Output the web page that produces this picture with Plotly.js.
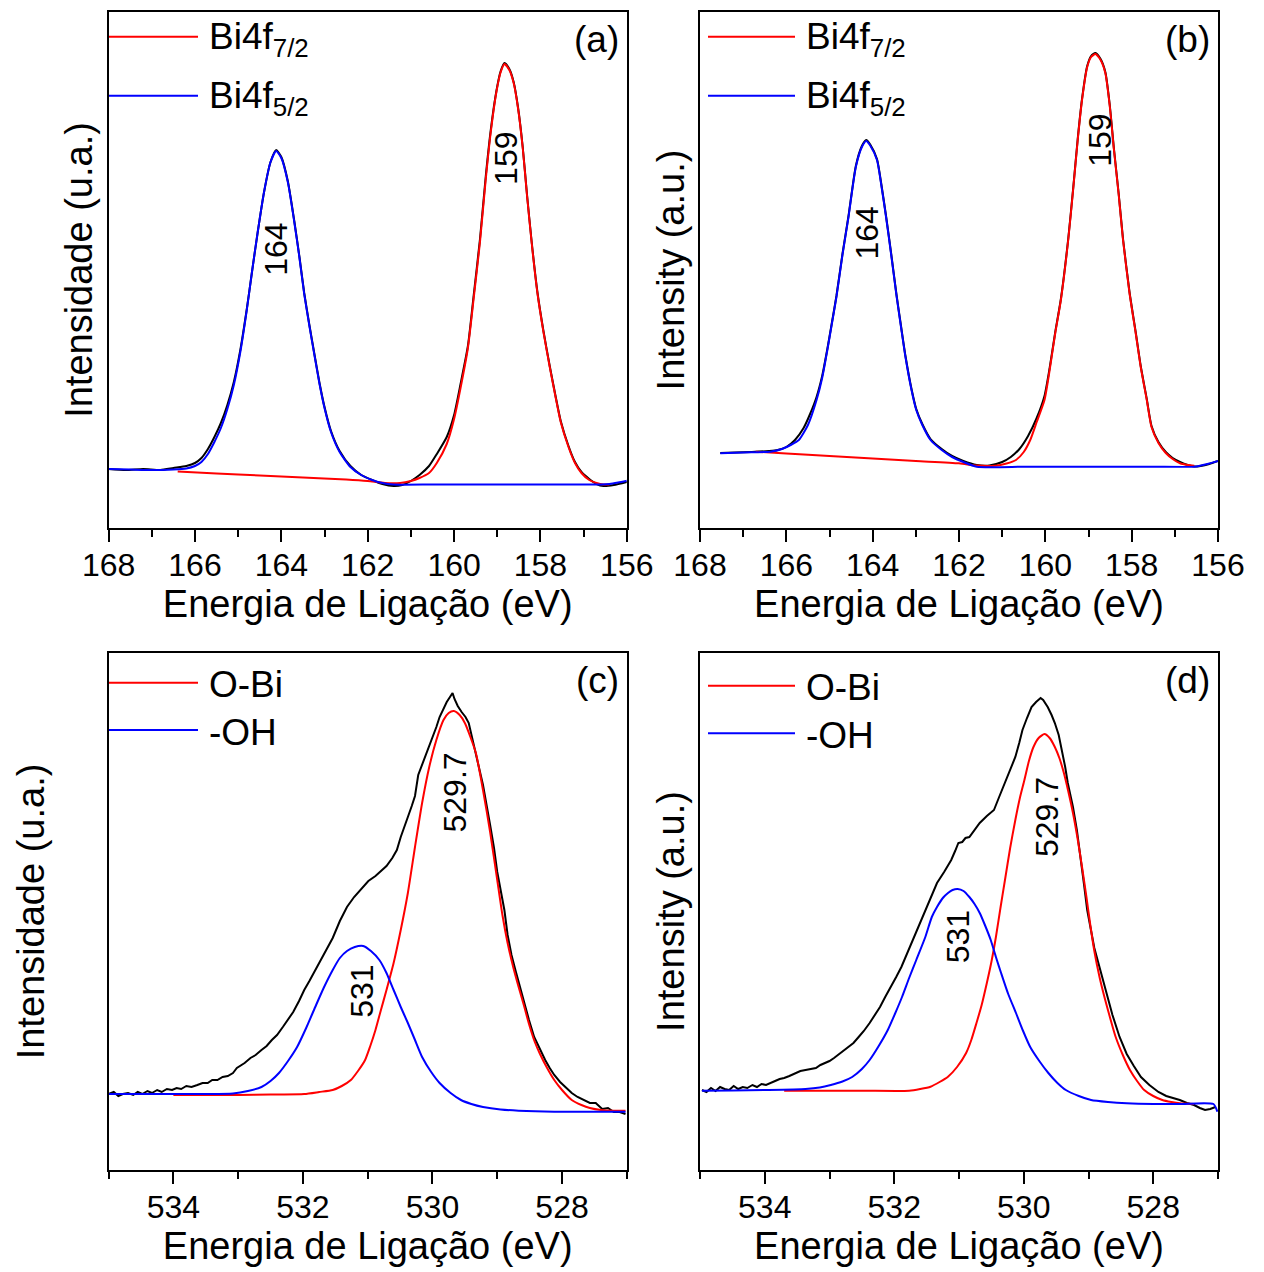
<!DOCTYPE html>
<html>
<head>
<meta charset="utf-8">
<script src="https://cdn.plot.ly/plotly-3.0.1.min.js"></script>
<style>html,body{margin:0;padding:0;background:#fff}#plot{width:1264px;height:1272px}</style>
</head>
<body>
<div id="plot"></div>
<script>
// ---------------- DATA ----------------
// Panel (a): Bi4f, binding energy (eV) vs intensity (a.u.)
const aExpX = [168.0,167.6,167.2,166.8,166.5,166.2,166.0,165.85,165.7,165.55,165.4,165.25,165.1,164.95,164.8,164.68,164.55,164.4,164.25,164.12,164.0,163.85,163.7,163.58,163.47,163.35,163.23,163.12,163.0,162.85,162.65,162.4,162.15,161.9,161.66,161.4,161.2,161.0,160.8,160.58,160.4,160.17,160.0,159.85,159.68,159.55,159.4,159.27,159.15,159.02,158.92,158.83,158.72,158.62,158.52,158.41,158.31,158.2,158.07,157.93,157.78,157.65,157.53,157.35,157.2,157.05,156.87,156.7,156.54,156.3,156.0];
const aExpY = [5.9,5.8,5.9,5.8,6.0,6.2,6.5,7.0,7.9,9.1,10.5,12.3,14.6,17.8,21.9,25.6,29.5,33.6,36.6,37.8,37.1,34.7,30.7,27.1,23.5,20.3,17.3,14.6,12.1,9.7,7.7,6.2,5.3,4.8,4.4,4.2,4.3,4.7,5.3,6.2,7.4,9.1,11.3,14.4,18.2,23.1,28.9,35.0,39.8,43.7,45.7,46.5,45.9,44.6,42.1,38.1,33.3,28.5,23.6,19.7,16.1,13.2,10.7,8.2,6.6,5.6,4.9,4.4,4.2,4.3,4.6];
const aRedX = [166.4,165.5,164.5,163.5,162.5,162.0,161.6,161.25,161.0,160.8,160.58,160.4,160.17,160.0,159.85,159.68,159.55,159.4,159.27,159.15,159.02,158.92,158.83,158.72,158.62,158.52,158.41,158.31,158.2,158.07,157.93,157.78,157.65,157.53,157.35,157.2,157.05,156.87,156.7,156.54,156.4];
const aRedY = [5.65,5.45,5.25,5.05,4.85,4.7,4.5,4.5,4.7,5.0,5.5,6.5,8.4,10.9,14.0,18.0,22.8,28.6,34.7,39.6,43.6,45.6,46.4,45.8,44.5,42.0,38.0,33.2,28.4,23.5,19.6,16.0,13.1,10.6,8.1,6.5,5.5,4.8,4.5,4.35,4.35];
const aBlueX = [168.0,167.5,167.0,166.5,166.2,166.0,165.85,165.7,165.55,165.4,165.25,165.1,164.95,164.8,164.68,164.55,164.4,164.25,164.12,164.0,163.85,163.7,163.58,163.47,163.35,163.23,163.12,163.0,162.85,162.65,162.4,162.15,161.9,161.66,161.4,160.5,159.5,158.5,157.5,156.6,156.4,156.2,156.0];
const aBlueY = [5.9,5.85,5.8,5.85,5.95,6.2,6.6,7.4,8.6,10.0,11.9,14.3,17.6,21.8,25.6,29.5,33.6,36.6,37.7,37.0,34.6,30.6,27.0,23.4,20.2,17.2,14.5,12.0,9.6,7.6,6.1,5.3,4.8,4.5,4.35,4.35,4.35,4.35,4.35,4.35,4.4,4.55,4.73];

// Panel (b)
const bExpX = [167.53,167.2,166.8,166.4,166.2,166.0,165.8,165.6,165.45,165.3,165.17,165.05,164.95,164.84,164.7,164.56,164.39,164.25,164.15,164.05,163.9,163.8,163.69,163.57,163.45,163.34,163.24,163.1,162.99,162.85,162.66,162.4,162.16,161.9,161.59,161.3,161.0,160.8,160.6,160.4,160.2,160.02,159.9,159.77,159.64,159.47,159.35,159.25,159.15,159.03,158.94,158.84,158.72,158.61,158.51,158.41,158.3,158.2,158.05,157.9,157.79,157.65,157.54,157.38,157.21,157.05,156.88,156.7,156.55,156.4,156.2,156.0];
const bExpY = [7.5,7.55,7.6,7.7,7.8,8.1,8.8,10.0,11.4,13.1,15.2,17.9,20.4,23.2,27.4,31.2,36.2,38.2,38.8,38.3,36.9,34.4,31.2,27.4,23.4,20.1,17.2,13.9,11.9,10.4,8.9,7.9,7.2,6.7,6.3,6.25,6.6,7.1,7.9,9.2,11.0,13.2,16.0,19.6,22.9,28.9,34.2,38.9,42.9,46.2,47.2,47.5,46.9,45.6,42.4,37.9,33.4,28.9,23.6,19.4,16.2,12.9,10.2,8.6,7.6,7.0,6.6,6.3,6.15,6.2,6.4,6.7];
const bRedX = [166.71,166.0,165.0,164.0,163.0,162.0,161.6,161.17,160.9,160.68,160.5,160.35,160.2,160.02,159.9,159.77,159.64,159.47,159.35,159.25,159.15,159.03,158.94,158.84,158.72,158.61,158.51,158.41,158.3,158.2,158.05,157.9,157.79,157.65,157.54,157.38,157.21,157.05,156.88,156.7,156.55];
const bRedY = [7.63,7.45,7.2,6.95,6.7,6.47,6.25,6.23,6.45,6.8,7.6,8.8,10.6,12.8,15.8,19.5,22.8,28.8,34.1,38.8,42.8,46.1,47.1,47.4,46.8,45.5,42.3,37.8,33.3,28.8,23.5,19.3,16.1,12.8,10.1,8.5,7.5,6.9,6.47,6.3,6.23];
const bBlueX = [167.53,167.0,166.37,166.1,165.9,165.71,165.5,165.3,165.17,165.05,164.95,164.84,164.7,164.56,164.39,164.25,164.15,164.05,163.9,163.8,163.69,163.57,163.45,163.34,163.24,163.1,162.99,162.85,162.66,162.4,162.16,161.9,161.59,160.5,159.5,158.5,157.5,156.55,156.4,156.2,156.0];
const bBlueY = [7.47,7.55,7.63,7.9,8.3,8.8,10.3,12.8,15.0,17.8,20.3,23.1,27.3,31.1,36.1,38.1,38.7,38.2,36.8,34.3,31.1,27.3,23.3,20.0,17.1,13.8,11.8,10.3,8.8,7.8,7.1,6.6,6.13,6.13,6.13,6.13,6.13,6.13,6.25,6.45,6.7];

// Panel (c): O1s
const cExpX = [535.0,534.92,534.85,534.78,534.7,534.62,534.55,534.48,534.4,534.33,534.25,534.18,534.1,534.02,533.95,533.88,533.8,533.72,533.63,533.55,533.47,533.4,533.32,533.24,533.16,533.08,533.02,532.97,532.9,532.81,532.73,532.64,532.56,532.48,532.4,532.31,532.23,532.15,532.06,531.98,531.9,531.81,531.73,531.65,531.54,531.43,531.32,531.21,531.1,530.99,530.88,530.79,530.71,530.62,530.55,530.49,530.43,530.38,530.32,530.27,530.22,530.16,530.11,530.05,530.0,529.94,529.89,529.83,529.78,529.72,529.69,529.66,529.61,529.55,529.49,529.44,529.38,529.33,529.27,529.22,529.11,529.05,529.0,528.94,528.89,528.84,528.78,528.72,528.67,528.59,528.51,528.43,528.34,528.26,528.19,528.12,528.03,527.94,527.85,527.76,527.66,527.57,527.48,527.38,527.29,527.2,527.11,527.02];
const cExpY = [7.6,7.8,7.4,7.6,7.7,7.5,7.8,7.6,7.9,7.7,8.0,7.8,8.1,8.0,8.2,8.1,8.4,8.3,8.5,8.7,8.7,9.0,9.0,9.3,9.4,9.7,10.2,10.4,10.7,11.2,11.5,12.0,12.4,13.0,13.5,14.3,15.0,15.8,16.9,18.0,18.9,20.0,21.0,22.0,23.2,24.9,26.3,27.3,28.1,28.9,29.4,29.9,30.4,31.2,32.0,33.3,34.3,35.3,36.4,37.4,39.5,40.5,41.4,42.4,43.3,44.3,45.3,46.1,46.8,47.4,47.7,47.1,46.4,45.8,45.3,44.7,43.0,41.4,40.0,38.5,34.5,32.2,29.8,27.7,26.0,23.5,21.5,20.0,18.8,16.8,15.0,13.3,12.0,11.0,10.2,9.5,8.8,8.2,7.7,7.3,7.0,6.7,6.7,6.1,6.2,5.8,5.8,5.6];
const cRedX = [534.0,533.0,532.5,531.98,531.75,531.54,531.4,531.26,531.15,531.04,530.96,530.88,530.8,530.71,530.6,530.49,530.38,530.27,530.16,530.05,529.94,529.83,529.75,529.67,529.58,529.5,529.42,529.33,529.22,529.11,529.0,528.92,528.84,528.75,528.67,528.59,528.51,528.42,528.34,528.23,528.12,528.0,527.85,527.7,527.57,527.4,527.2,527.02];
const cRedY = [7.5,7.5,7.55,7.6,7.8,8.0,8.4,9.0,9.9,11.0,12.4,14.0,15.9,18.0,20.7,24.0,27.7,32.3,36.7,40.3,43.0,45.0,45.7,45.9,45.5,44.7,43.4,41.7,38.0,33.8,29.0,25.5,22.7,20.2,18.3,16.5,14.6,12.8,11.6,10.2,9.0,8.0,7.0,6.5,6.2,6.0,5.93,5.93];
const cBlueX = [535.0,534.5,534.0,533.5,533.08,532.85,532.64,532.5,532.37,532.23,532.09,531.95,531.81,531.68,531.54,531.43,531.32,531.2,531.07,530.95,530.82,530.71,530.6,530.49,530.38,530.27,530.16,530.02,529.89,529.72,529.56,529.4,529.22,528.95,528.67,528.12,527.5,527.02];
const cBlueY = [7.6,7.6,7.6,7.6,7.65,7.9,8.3,8.9,9.7,10.9,12.3,14.2,16.3,18.2,20.0,21.2,21.9,22.3,22.4,21.9,21.0,19.7,18.0,16.3,14.7,13.0,11.3,9.8,8.7,7.7,7.0,6.6,6.3,6.05,5.93,5.83,5.83,5.83];

// Panel (d)
const dExpX = [534.97,534.9,534.83,534.76,534.69,534.62,534.55,534.48,534.41,534.34,534.27,534.19,534.12,534.05,533.98,533.92,533.84,533.77,533.7,533.62,533.53,533.45,533.37,533.29,533.21,533.14,533.07,533.0,532.93,532.85,532.78,532.71,532.63,532.55,532.47,532.38,532.3,532.22,532.14,532.05,531.97,531.89,531.83,531.78,531.72,531.67,531.58,531.5,531.42,531.34,531.23,531.12,531.06,531.01,530.95,530.9,530.84,530.76,530.68,530.57,530.46,530.38,530.29,530.21,530.13,530.07,530.02,529.95,529.88,529.81,529.74,529.7,529.63,529.57,529.52,529.46,529.41,529.36,529.32,529.28,529.24,529.18,529.13,529.07,529.02,528.96,528.91,528.86,528.8,528.72,528.63,528.52,528.41,528.3,528.19,528.06,527.92,527.8,527.7,527.59,527.48,527.37,527.28,527.2,527.12,527.04];
const dExpY = [8.0,7.8,8.2,7.9,8.3,8.1,8.0,8.4,8.1,8.3,8.2,8.5,8.3,8.6,8.5,8.7,8.9,9.1,9.2,9.4,9.7,9.9,10.0,10.1,10.2,10.5,10.7,10.9,11.2,11.6,12.0,12.3,12.7,13.3,13.9,14.7,15.5,16.3,17.3,18.3,19.3,20.3,21.2,22.0,22.9,23.7,25.0,26.3,27.5,28.7,29.8,31.0,31.9,32.7,32.8,33.2,33.3,34.0,34.7,35.4,36.0,37.3,38.7,40.0,41.3,42.7,44.0,45.2,46.3,46.8,47.2,47.0,46.3,45.5,44.7,43.5,42.0,40.3,38.7,37.5,36.3,34.0,31.3,28.6,26.0,23.8,22.2,21.0,19.5,17.6,15.5,13.3,11.6,10.4,9.3,8.5,7.8,7.4,7.2,7.0,6.7,6.5,6.2,6.0,6.1,6.3];
const dRedX = [533.7,532.5,531.77,531.6,531.44,531.3,531.17,531.03,530.89,530.81,530.73,530.65,530.57,530.5,530.43,530.36,530.29,530.21,530.13,530.06,529.99,529.92,529.85,529.77,529.68,529.6,529.52,529.45,529.38,529.31,529.24,529.17,529.1,529.03,528.97,528.91,528.83,528.75,528.67,528.58,528.47,528.36,528.25,528.14,528.0,527.86,527.72,527.59,527.37];
const dRedY = [7.93,7.93,7.93,8.1,8.33,8.8,9.33,10.3,11.7,13.0,14.7,16.5,18.7,20.8,23.3,26.2,29.0,32.2,35.0,37.2,39.0,40.9,42.3,43.2,43.6,43.2,42.3,41.2,39.7,37.8,35.7,33.2,30.3,27.2,24.4,21.9,19.3,17.2,15.3,13.3,11.5,10.0,8.9,8.0,7.4,7.0,6.8,6.67,6.6];
const dBlueX = [534.97,534.5,534.0,533.37,533.15,532.98,532.8,532.65,532.5,532.38,532.24,532.1,531.99,531.88,531.77,531.66,531.52,531.42,531.34,531.25,531.17,531.1,531.02,530.93,530.84,530.76,530.68,530.6,530.51,530.43,530.35,530.24,530.12,530.01,529.9,529.76,529.62,529.48,529.35,529.15,528.96,528.7,528.41,528.0,527.59,527.07,527.01];
const dBlueY = [7.93,7.95,8.0,8.1,8.25,8.5,8.85,9.3,10.1,11.0,12.4,14.0,15.6,17.3,19.2,21.0,23.3,25.3,26.3,27.2,27.7,28.0,28.1,27.9,27.3,26.6,25.7,24.5,23.0,21.3,19.7,17.6,15.7,13.9,12.3,10.9,9.7,8.7,8.0,7.4,7.0,6.8,6.67,6.6,6.6,6.6,5.83];

// Text
const xTitle = "Energia de Ligação (eV)";
const yTitles = ["Intensidade (u.a.)", "Intensity (a.u.)", "Intensidade (u.a.)", "Intensity (a.u.)"];
const panelTags = ["(a)", "(b)", "(c)", "(d)"];
const legendBi = ["Bi4f<sub>7/2</sub>", "Bi4f<sub>5/2</sub>"];
const legendO = ["O-Bi", "-OH"];
// Peak labels: [text, energy, intensity]
const peakA = [["164", 164.13, 27.9], ["159", 158.80, 37.0]];
const peakB = [["164", 164.12, 29.5], ["159", 158.74, 38.8]];
const peakC = [["529.7", 529.66, 37.7], ["531", 531.09, 17.9]];
const peakD = [["529.7", 529.64, 35.3], ["531", 531.01, 23.3]];

// ---------------- LAYOUT ----------------
const W = 1264, H = 1272;
const PX = v => v / W;
const PY = v => 1 - v / H;
const FONT = "Liberation Sans, Arial, sans-serif";
const RED = "#ff0000", BLUE = "#0000ff", BLACK = "#000000";

const panels = [
  {x0:108.6, x1:626.8, y0:12, y1:528, range:[168,156], yr:[0,51.6], ex:aExpX, ey:aExpY, rx:aRedX, ry:aRedY, bx:aBlueX, by:aBlueY, leg:legendBi, peaks:peakA, ytStand:2, expShape:"spline"},
  {x0:700, x1:1218, y0:12, y1:528, range:[168,156], yr:[0,51.6], ex:bExpX, ey:bExpY, rx:bRedX, ry:bRedY, bx:bBlueX, by:bBlueY, leg:legendBi, peaks:peakB, ytStand:2, expShape:"spline"},
  {x0:108.6, x1:626.8, y0:653, y1:1170, range:[535,527], yr:[0,51.7], ex:cExpX, ey:cExpY, rx:cRedX, ry:cRedY, bx:cBlueX, by:cBlueY, leg:legendO, peaks:peakC, ytStand:50, expShape:"linear"},
  {x0:700, x1:1218, y0:653, y1:1170, range:[535,527], yr:[0,51.7], ex:dExpX, ey:dExpY, rx:dRedX, ry:dRedY, bx:dBlueX, by:dBlueY, leg:legendO, peaks:peakD, ytStand:2, expShape:"linear"}
];

const traces = [];
const layout = {
  width: W, height: H,
  margin: {l:0, r:0, t:0, b:0},
  paper_bgcolor: "#ffffff", plot_bgcolor: "#ffffff",
  showlegend: false,
  font: {family: FONT, color: BLACK},
  annotations: [], shapes: []
};

panels.forEach((p, i) => {
  const n = i === 0 ? "" : String(i + 1);
  const xa = "x" + n, ya = "y" + n;
  const lineSpec = (c) => ({color: c, width: 2, shape: "spline", smoothing: 0.6});
  traces.push({x: p.ex, y: p.ey, xaxis: xa, yaxis: ya, mode: "lines",
    line: p.expShape === "spline" ? {color: BLACK, width: 2, shape: "spline", smoothing: 0.6} : {color: BLACK, width: 2}, name: "Exp."});
  traces.push({x: p.rx, y: p.ry, xaxis: xa, yaxis: ya, mode: "lines", line: lineSpec(RED), name: p.leg[0]});
  traces.push({x: p.bx, y: p.by, xaxis: xa, yaxis: ya, mode: "lines", line: lineSpec(BLUE), name: p.leg[1]});

  layout["xaxis" + n] = {
    domain: [PX(p.x0), PX(p.x1)], anchor: ya, range: p.range, dtick: 2, tick0: 156,
    ticks: "outside", ticklen: 12, tickwidth: 2, tickcolor: BLACK,
    minor: {dtick: 1, ticks: "outside", ticklen: 7, tickwidth: 2, tickcolor: BLACK, showgrid: false},
    showline: true, linewidth: 2, linecolor: BLACK, mirror: true,
    showgrid: false, zeroline: false, automargin: false,
    ticklabelstandoff: -4,
    tickfont: {size: 32, family: FONT, color: BLACK},
    title: {text: xTitle, font: {size: 38, family: FONT, color: BLACK}, standoff: 4}
  };
  layout["yaxis" + n] = {
    domain: [PY(p.y1), PY(p.y0)], anchor: xa, range: p.yr,
    showline: true, linewidth: 2, linecolor: BLACK, mirror: true,
    ticks: "", showticklabels: false, showgrid: false, zeroline: false, automargin: false,
    title: {text: yTitles[i], font: {size: 38, family: FONT, color: BLACK}, standoff: p.ytStand}
  };

  // peak labels
  p.peaks.forEach(pk => {
    layout.annotations.push({xref: xa, yref: ya, x: pk[1], y: pk[2], text: pk[0], showarrow: false,
      textangle: -90, font: {size: 32, family: FONT, color: BLACK}, xanchor: "center", yanchor: "middle"});
  });
  // panel tag
  layout.annotations.push({xref: xa + " domain", yref: ya + " domain",
    x: 0.988, y: 0.947, text: panelTags[i], showarrow: false, xanchor: "right", yanchor: "middle",
    font: {size: 37, family: FONT, color: BLACK}});
  // legend (lines + text)
  const legY = i < 2 ? [36.7, 95.7] : (i === 2 ? [682.7, 730] : [685.7, 733.3]);
  const lx0 = p.x0 === 108.6 ? 109 : 708, lx1 = p.x0 === 108.6 ? 198 : 795;
  const tx = p.x0 === 108.6 ? 207 : 804;
  [RED, BLUE].forEach((c, k) => {
    layout.shapes.push({type: "line", xref: "paper", yref: "paper", x0: PX(lx0), x1: PX(lx1),
      y0: PY(legY[k]), y1: PY(legY[k]), line: {color: c, width: 2}});
    layout.annotations.push({xref: "paper", yref: "paper", x: PX(tx), y: PY(legY[k] + 2),
      text: p.leg[k], showarrow: false, xanchor: "left", yanchor: "middle",
      font: {size: 37, family: FONT, color: BLACK}});
  });
});

Plotly.newPlot("plot", traces, layout, {staticPlot: true});
</script>
</body>
</html>
